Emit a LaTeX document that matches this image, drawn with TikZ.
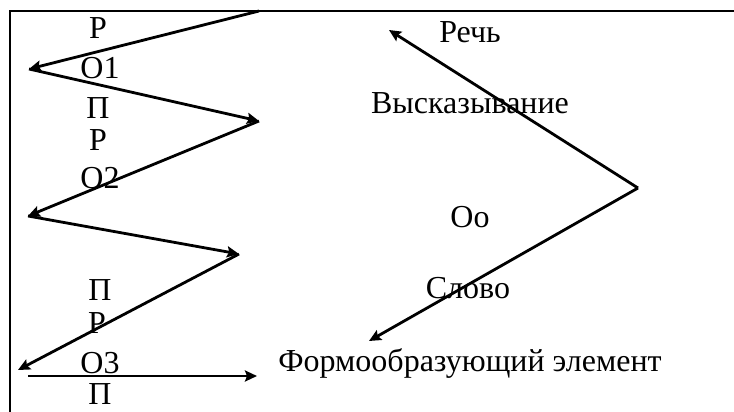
\documentclass[tikz,border=0pt]{standalone}
\usepackage{fontspec}
\setmainfont{Liberation Serif}
\usetikzlibrary{arrows.meta}
\begin{document}
\begin{tikzpicture}[x=1pt,y=-1pt,
  lbl/.style={inner sep=0pt,font=\fontsize{32}{36}\selectfont},
  conn/.style={line width=2.8pt,-{Stealth[length=12pt,width=11pt,inset=2pt]}},
  frame/.style={line width=2.4pt}]
\useasboundingbox (0,0) rectangle (734,412);
% frame
\draw[frame] (10,412) -- (10,11) -- (734,11);
% left column labels
\node[lbl] (r1) at (98,28) {Р};
\node[lbl] (o1) at (100,68) {О1};
\node[lbl] (p1) at (98,108) {П};
\node[lbl] (r2) at (98,140) {Р};
\node[lbl] (o2) at (100,178) {О2};
\node[lbl] (p2) at (100,290) {П};
\node[lbl] (r3) at (97,323) {Р};
\node[lbl] (o3) at (100,363) {О3};
\node[lbl,anchor=base] (p3) at (100,404) {П};
% right column labels
\node[lbl] (rech) at (470,32) {Речь};
\node[lbl] (vysk) at (470,103) {Высказывание};
\node[lbl] (oo) at (470,217) {Оо};
\node[lbl] (slovo) at (468,288) {Слово};
\node[lbl] (form) at (470,363) {Формообразующий элемент};
% zigzag points
\coordinate (z0) at (259,11);
\coordinate (z1) at (29,69);
\coordinate (z2) at (259,121);
\coordinate (z3) at (28,216);
\coordinate (z4) at (239,254);
\coordinate (z5) at (18,370);
\coordinate (h0) at (28,376);
\coordinate (h1) at (257,376);
\coordinate (v) at (638,188);
\coordinate (a1) at (389,30);
\coordinate (a2) at (369,341);
\draw[conn] (z0) -- (z1);
\draw[conn] (z1) -- (z2);
\draw[conn] (z2) -- (z3);
\draw[conn] (z3) -- (z4);
\draw[conn] (z4) -- (z5);
\draw[conn] (h0) -- (h1);
\draw[conn] (v) -- (a1);
\draw[conn] (v) -- (a2);
\end{tikzpicture}
\end{document}
